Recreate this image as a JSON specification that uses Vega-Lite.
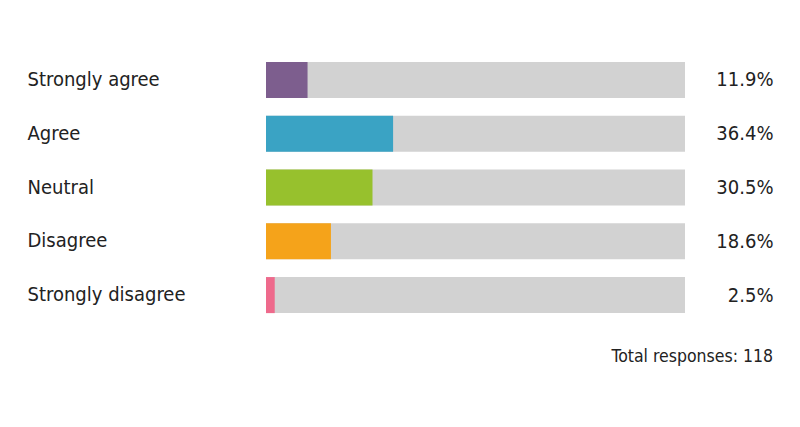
{
  "$schema": "https://vega.github.io/schema/vega-lite/v6.json",
  "autosize": "none",
  "width": 419,
  "height": 269,
  "padding": {"left": 266, "top": 53, "right": 115, "bottom": 105},
  "background": "white",
  "config": {"view": {"stroke": null}, "font": "DejaVu Sans Condensed"},
  "title": {
    "text": "Total responses: 118",
    "orient": "bottom",
    "anchor": "end",
    "frame": "bounds",
    "fontSize": 17.5,
    "fontWeight": "normal",
    "color": "#222222",
    "offset": 26,
    "font": "DejaVu Sans Condensed"
  },
  "data": {
    "values": [
      {"answer": "Strongly agree", "pct": 11.9, "label": "11.9%"},
      {"answer": "Agree", "pct": 36.4, "label": "36.4%"},
      {"answer": "Neutral", "pct": 30.5, "label": "30.5%"},
      {"answer": "Disagree", "pct": 18.6, "label": "18.6%"},
      {"answer": "Strongly disagree", "pct": 2.5, "label": "2.5%"}
    ]
  },
  "layer": [
    {
      "layer": [
        {
          "mark": {"type": "bar", "color": "#d2d2d2"},
          "encoding": {
            "y": {
              "field": "answer", "type": "nominal", "sort": null,
              "scale": {"paddingInner": 0.33, "paddingOuter": 0.165},
              "axis": {"title": null, "domain": false, "ticks": false, "labelAlign": "left", "labelPadding": 239, "labelFontSize": 20, "labelColor": "#222222", "labelFont": "DejaVu Sans Condensed"}
            },
            "x": {"datum": 120, "type": "quantitative", "scale": {"domain": [0, 120]}, "axis": null}
          }
        },
        {
          "mark": {"type": "bar"},
          "encoding": {
            "y": {"field": "answer", "type": "nominal", "sort": null},
            "x": {"field": "pct", "type": "quantitative"},
            "color": {
              "field": "answer", "type": "nominal", "sort": null,
              "scale": {"domain": ["Strongly agree", "Agree", "Neutral", "Disagree", "Strongly disagree"], "range": ["#7d5e8e", "#3aa3c4", "#97c12d", "#f5a31a", "#ee6a8c"]},
              "legend": null
            }
          }
        }
      ]
    },
    {
      "mark": {"type": "text", "opacity": 0},
      "encoding": {
        "y": {
          "field": "label", "type": "nominal", "sort": null,
          "scale": {"paddingInner": 0.33, "paddingOuter": 0.165},
          "axis": {"orient": "right", "title": null, "domain": false, "ticks": false, "labelAlign": "right", "labelPadding": 88, "labelFontSize": 20, "labelColor": "#222222", "labelFont": "DejaVu Sans Condensed"}
        },
        "text": {"field": "label"}
      }
    }
  ],
  "resolve": {"scale": {"y": "independent"}}
}
